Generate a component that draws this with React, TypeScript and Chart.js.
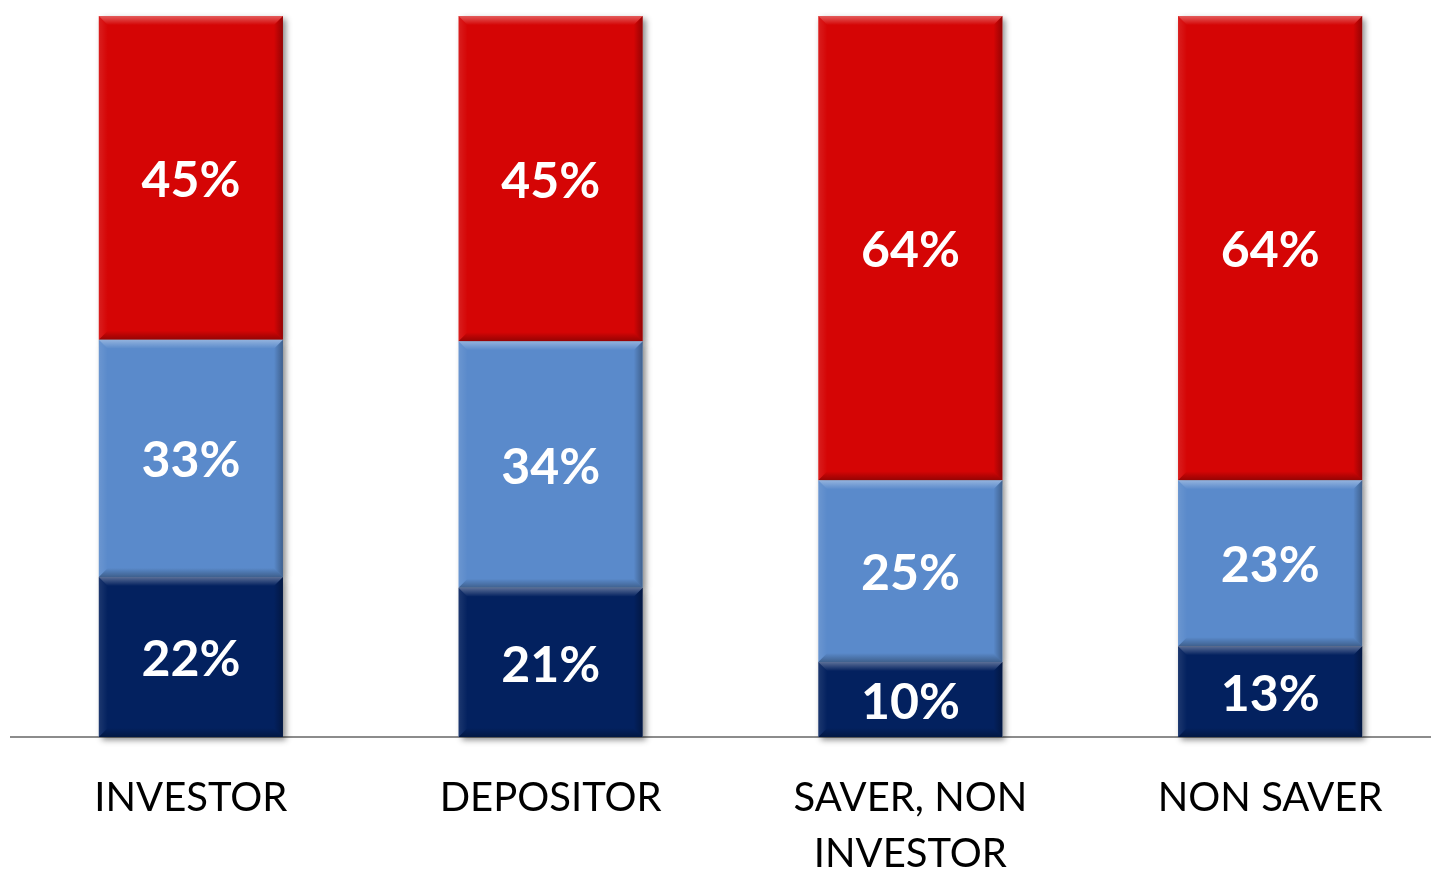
import React, { useEffect, useRef } from "react";
import { Chart, registerables } from "chart.js";

Chart.register(...registerables);

const categories: string[][] = [["INVESTOR"], ["DEPOSITOR"], ["SAVER, NON", "INVESTOR"], ["NON SAVER"]];
const bottomSeries = [22.2, 20.7, 10.4, 12.6];
const middleSeries = [32.9, 34.2, 25.2, 23.0];
const topSeries = [44.9, 45.1, 64.4, 64.4];
const seriesNames = ["Bottom", "Middle", "Top"];
const seriesColors = ["#03215F", "#5A8ACB", "#D50505"];

const rawSeries = [bottomSeries, middleSeries, topSeries];

const shadowPlugin = {
  id: "barShadow",
  beforeDatasetsDraw(chart: any) {
    const ctx = chart.ctx;
    ctx.save();
    chart.data.datasets.forEach((_: any, di: number) => {
      const meta = chart.getDatasetMeta(di);
      meta.data.forEach((el: any) => {
        const x0 = el.x - el.width / 2;
        const y0 = Math.min(el.y, el.base);
        const h = Math.abs(el.base - el.y);
        ctx.shadowColor = "rgba(0,0,0,0.45)";
        ctx.shadowBlur = 6;
        ctx.shadowOffsetX = 3;
        ctx.shadowOffsetY = 3;
        ctx.fillStyle = "#ffffff";
        ctx.fillRect(x0, y0, el.width, h);
      });
    });
    ctx.restore();
  },
};

function trap(ctx: any, pts: number[][], fill: any) {
  ctx.beginPath();
  ctx.moveTo(pts[0][0], pts[0][1]);
  for (let i = 1; i < pts.length; i++) ctx.lineTo(pts[i][0], pts[i][1]);
  ctx.closePath();
  ctx.fillStyle = fill;
  ctx.fill();
}

const bevelLabelPlugin = {
  id: "bevelLabels",
  afterDatasetsDraw(chart: any) {
    const ctx = chart.ctx;
    ctx.save();
    const b = 9;
    chart.data.datasets.forEach((ds: any, di: number) => {
      const meta = chart.getDatasetMeta(di);
      meta.data.forEach((el: any) => {
        const x0 = el.x - el.width / 2;
        const x1 = el.x + el.width / 2;
        const y0 = Math.min(el.y, el.base);
        const y1 = Math.max(el.y, el.base);
        let g = ctx.createLinearGradient(0, y0, 0, y0 + b);
        g.addColorStop(0, "rgba(255,255,255,0.35)");
        g.addColorStop(1, "rgba(255,255,255,0.0)");
        trap(ctx, [[x0, y0], [x1, y0], [x1 - b, y0 + b], [x0 + b, y0 + b]], g);
        g = ctx.createLinearGradient(x1 - b, 0, x1, 0);
        g.addColorStop(0, "rgba(0,0,0,0)");
        g.addColorStop(1, "rgba(0,0,0,0.3)");
        trap(ctx, [[x1, y0], [x1, y1], [x1 - b, y1 - b], [x1 - b, y0 + b]], g);
        g = ctx.createLinearGradient(0, y1 - b, 0, y1);
        g.addColorStop(0, "rgba(0,0,0,0)");
        g.addColorStop(1, "rgba(0,0,0,0.3)");
        trap(ctx, [[x0, y1], [x1, y1], [x1 - b, y1 - b], [x0 + b, y1 - b]], g);
        g = ctx.createLinearGradient(x0, 0, x0 + b, 0);
        g.addColorStop(0, "rgba(255,255,255,0.1)");
        g.addColorStop(1, "rgba(255,255,255,0)");
        trap(ctx, [[x0, y0], [x0, y1], [x0 + b, y1 - b], [x0 + b, y0 + b]], g);
      });
    });
    ctx.fillStyle = "#ffffff";
    ctx.font = "bold 50px Lato";
    ctx.textAlign = "center";
    ctx.textBaseline = "middle";
    chart.data.datasets.forEach((ds: any, di: number) => {
      const meta = chart.getDatasetMeta(di);
      meta.data.forEach((el: any, i: number) => {
        const y = (el.y + el.base) / 2 + 3;
        ctx.fillText(Math.round(rawSeries[di][i]) + "%", el.x, y);
      });
    });
    ctx.restore();
  },
};

export default function App() {
  const ref = useRef<HTMLCanvasElement>(null);
  useEffect(() => {
    document.body.style.margin = "0";
    const chart = new Chart(ref.current!, {
      type: "bar",
      data: {
        labels: categories,
        datasets: rawSeries.map((arr, di) => ({
          label: seriesNames[di],
          data: arr,
          backgroundColor: seriesColors[di],
          borderWidth: 0,
          barPercentage: 0.512,
          categoryPercentage: 1,
        })),
      },
      options: {
        responsive: false,
        animation: false,
        devicePixelRatio: 1,
        layout: { padding: { top: 16, left: 11, right: 0, bottom: 0 } },
        plugins: { legend: { display: false }, tooltip: { enabled: false } },
        scales: {
          x: {
            stacked: true,
            grid: { display: false },
            border: { display: true, color: "#8c8c8c", width: 2 },
            ticks: {
              color: "#000000",
              font: { family: "Lato", size: 40, lineHeight: 1.4 },
              padding: 25,
              maxRotation: 0,
              autoSkip: false,
            },
            afterFit: (s: any) => {
              s.height = 135;
            },
          },
          y: {
            stacked: true,
            display: false,
            min: 0,
            max: 100,
          },
        },
      },
      plugins: [shadowPlugin, bevelLabelPlugin],
    });
    return () => chart.destroy();
  }, []);
  return (
    <div style={{ position: "absolute", left: 0, top: 0, width: 1431, height: 872, overflow: "hidden", background: "#fff" }}>
      <canvas ref={ref} width={1450} height={872} />
    </div>
  );
}
